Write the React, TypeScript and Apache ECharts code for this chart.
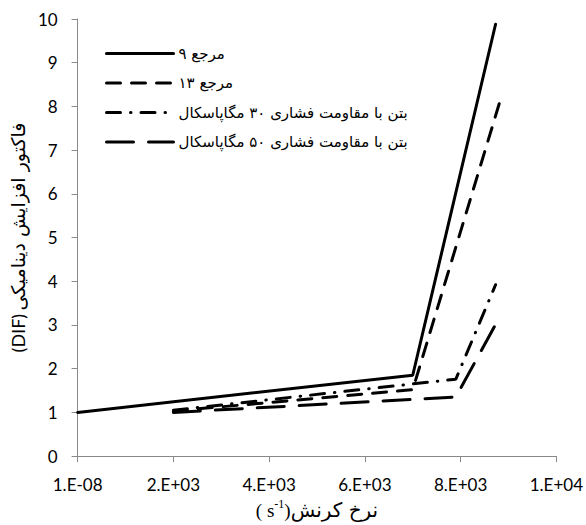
import React, { useEffect, useRef } from "react";
import * as echarts from "echarts";

// Strain rate (s^-1) and DIF values for each series
const strainRef9 = [0, 7000, 8730];
const difRef9 = [1.0, 1.85, 9.88];
const strainRef13 = [2000, 7000, 8850];
const difRef13 = [1.03, 1.52, 8.22];
const strain30 = [2000, 7900, 8730];
const dif30 = [1.05, 1.76, 3.92];
const strain50 = [2000, 7900, 8750];
const dif50 = [1.0, 1.35, 3.05];

const seriesNames = [
  "مرجع ۹",
  "مرجع ۱۳",
  "بتن با مقاومت فشاری ۳۰ مگاپاسکال",
  "بتن با مقاومت فشاری ۵۰ مگاپاسکال",
];

const xTickLabels = ["1.E-08", "2.E+03", "4.E+03", "6.E+03", "8.E+03", "1.E+04"];
const yTickValues = [0, 1, 2, 3, 4, 5, 6, 7, 8, 9, 10];

const zip = (xs: number[], ys: number[]) => xs.map((x, i) => [x, ys[i]]);

const numFont = "Lato, 'Open Sans', sans-serif";
const faFont = "'DejaVu Sans', 'Noto Sans', sans-serif";
const axisGray = "#898989";

export default function App() {
  const ref = useRef<HTMLDivElement>(null);
  useEffect(() => {
    if (!ref.current) return;
    const chart = echarts.init(ref.current, null, { renderer: "svg" });
    const dashes: any[] = [
      "solid",
      [14, 11],
      [14, 10, 0.5, 10],
      [27, 15],
    ];
    const datas = [
      zip(strainRef9, difRef9),
      zip(strainRef13, difRef13),
      zip(strain30, dif30),
      zip(strain50, dif50),
    ];
    chart.setOption({
      animation: false,
      backgroundColor: "#ffffff",
      grid: { left: 70, right: 29, top: 19, bottom: 68, containLabel: false },
      legend: {
        orient: "vertical",
        left: 105,
        top: 46,
        padding: 0,
        itemWidth: 67,
        itemHeight: 16,
        itemGap: 14.5,
        itemStyle: { opacity: 0 },
        lineStyle: { width: 3 },
        textStyle: { fontFamily: faFont, fontSize: 15, color: "#000" },
        data: seriesNames,
      },
      xAxis: {
        type: "value",
        min: 0,
        max: 10000,
        interval: 2000,
        splitLine: { show: false },
        axisLine: { lineStyle: { color: axisGray, width: 1 } },
        axisTick: { show: true, length: 6, lineStyle: { color: axisGray } },
        axisLabel: {
          margin: 20,
          fontFamily: numFont,
          fontSize: 17,
          color: "#000",
          formatter: (v: number) => xTickLabels[Math.round(v / 2000)] ?? "",
        },
        name: "{p|( s}{sup|-1}{p|)}{fa|نرخ کرنش}",
        nameLocation: "middle",
        nameGap: 39,
        nameTextStyle: {
          rich: {
            p: { fontFamily: "'Liberation Serif', serif", fontSize: 19, lineHeight: 24, color: "#000" },
            sup: { fontFamily: "'Liberation Serif', serif", fontSize: 12, lineHeight: 12, verticalAlign: "top", color: "#000" },
            fa: { fontFamily: faFont, fontSize: 20, lineHeight: 24, color: "#000" },
          },
        },
      },
      yAxis: {
        type: "value",
        min: yTickValues[0],
        max: yTickValues[yTickValues.length - 1],
        interval: 1,
        splitLine: { show: false },
        axisLine: { show: true, lineStyle: { color: axisGray, width: 1 } },
        axisTick: { show: true, length: 6, lineStyle: { color: axisGray } },
        axisLabel: { margin: 20, fontFamily: numFont, fontSize: 17, color: "#000" },
        name: "{en|(DIF)} {fa|فاکتور افزایش دینامیکی}",
        nameLocation: "middle",
        nameGap: 48,
        nameTextStyle: {
          rich: {
            en: { fontFamily: numFont, fontSize: 18, color: "#000" },
            fa: { fontFamily: faFont, fontSize: 19, color: "#000" },
          },
        },
      },
      series: seriesNames.map((name, i) => ({
        name,
        type: "line",
        data: datas[i],
        symbol: "none",
        showSymbol: false,
        color: "#000",
        lineStyle: { color: "#000", width: 3, type: dashes[i], cap: "round" },
      })),
    });
    return () => chart.dispose();
  }, []);
  return (
    <div
      ref={ref}
      style={{ position: "fixed", left: 0, top: 0, width: 586, height: 525 }}
    />
  );
}
